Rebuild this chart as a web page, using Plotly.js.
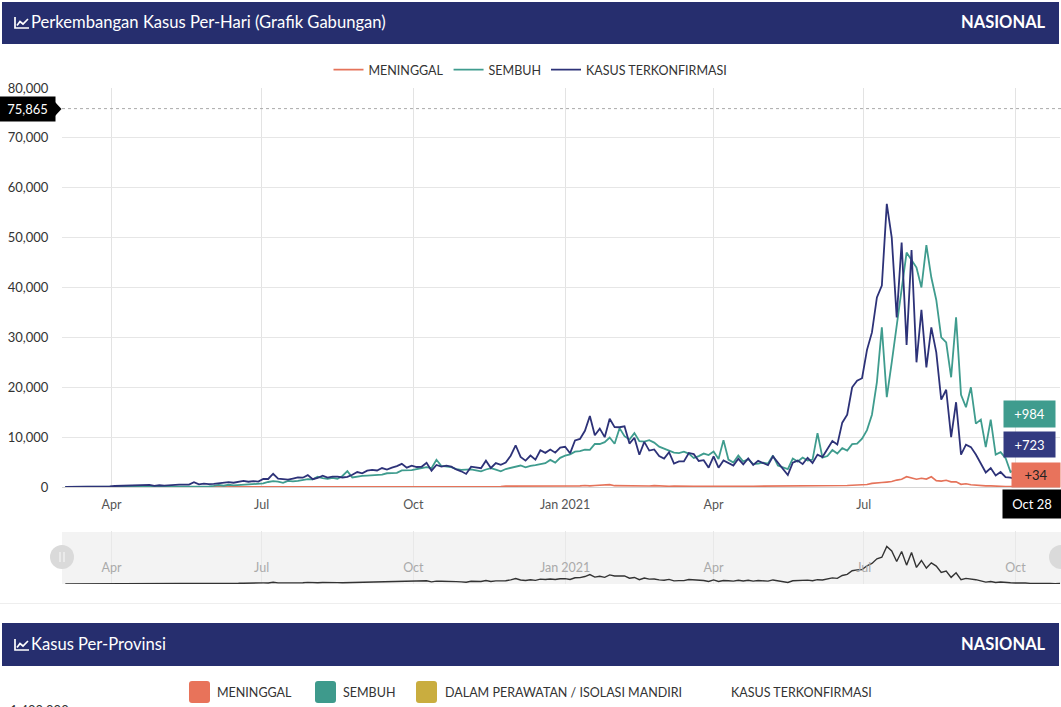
<!DOCTYPE html>
<html><head><meta charset="utf-8">
<script src="https://cdn.plot.ly/plotly-3.0.1.min.js"></script>
<style>html,body{margin:0;padding:0;background:#fff;}#chart{width:1061px;height:707px;}</style>
</head><body><div id="chart"></div>
<script>
const dates = [
'2020-03-04','2020-03-07','2020-03-10','2020-03-13','2020-03-16','2020-03-19','2020-03-22','2020-03-25','2020-03-28','2020-03-31',
'2020-04-03','2020-04-06','2020-04-09','2020-04-12','2020-04-15','2020-04-18','2020-04-21','2020-04-24','2020-04-27','2020-04-30',
'2020-05-03','2020-05-06','2020-05-09','2020-05-12','2020-05-15','2020-05-18','2020-05-21','2020-05-24','2020-05-27','2020-05-30',
'2020-06-02','2020-06-05','2020-06-08','2020-06-11','2020-06-14','2020-06-17','2020-06-20','2020-06-23','2020-06-26','2020-06-29',
'2020-07-02','2020-07-05','2020-07-08','2020-07-11','2020-07-14','2020-07-17','2020-07-20','2020-07-23','2020-07-26','2020-07-29',
'2020-08-01','2020-08-04','2020-08-07','2020-08-10','2020-08-13','2020-08-16','2020-08-19','2020-08-22','2020-08-25','2020-08-28','2020-08-31',
'2020-09-03','2020-09-06','2020-09-09','2020-09-12','2020-09-15','2020-09-18','2020-09-21','2020-09-24','2020-09-27','2020-09-30',
'2020-10-03','2020-10-06','2020-10-09','2020-10-12','2020-10-15','2020-10-18','2020-10-21','2020-10-24','2020-10-27','2020-10-30',
'2020-11-02','2020-11-05','2020-11-08','2020-11-11','2020-11-14','2020-11-17','2020-11-20','2020-11-23','2020-11-26','2020-11-29',
'2020-12-02','2020-12-05','2020-12-08','2020-12-11','2020-12-14','2020-12-17','2020-12-20','2020-12-23','2020-12-26','2020-12-29',
'2021-01-01','2021-01-04','2021-01-07','2021-01-10','2021-01-13','2021-01-16','2021-01-19','2021-01-22','2021-01-25','2021-01-28','2021-01-31',
'2021-02-03','2021-02-06','2021-02-09','2021-02-12','2021-02-15','2021-02-18','2021-02-21','2021-02-24','2021-02-27',
'2021-03-02','2021-03-05','2021-03-08','2021-03-11','2021-03-14','2021-03-17','2021-03-20','2021-03-23','2021-03-26','2021-03-29',
'2021-04-01','2021-04-04','2021-04-07','2021-04-10','2021-04-13','2021-04-16','2021-04-19','2021-04-22','2021-04-25','2021-04-28',
'2021-05-01','2021-05-04','2021-05-07','2021-05-10','2021-05-13','2021-05-16','2021-05-19','2021-05-22','2021-05-25','2021-05-28','2021-05-31',
'2021-06-03','2021-06-06','2021-06-09','2021-06-12','2021-06-15','2021-06-18','2021-06-21','2021-06-24','2021-06-27','2021-06-30',
'2021-07-03','2021-07-06','2021-07-09','2021-07-12','2021-07-15','2021-07-18','2021-07-21','2021-07-24','2021-07-27','2021-07-30',
'2021-08-02','2021-08-05','2021-08-08','2021-08-11','2021-08-14','2021-08-17','2021-08-20','2021-08-23','2021-08-26','2021-08-29',
'2021-09-01','2021-09-04','2021-09-07','2021-09-10','2021-09-13','2021-09-16','2021-09-19','2021-09-22','2021-09-25','2021-09-28',
'2021-10-01','2021-10-04','2021-10-07','2021-10-10','2021-10-13','2021-10-16','2021-10-19','2021-10-22','2021-10-25','2021-10-28'
];

const confirmed = [
0,2,8,35,17,82,64,105,109,114,
196,218,337,399,297,325,375,436,214,347,
292,367,533,484,490,496,973,526,686,557,
609,703,847,979,857,1031,1226,1051,1178,1082,
1624,1607,2657,1671,1591,1462,1693,1906,1868,2381,
1560,1815,2277,1893,2098,2081,1902,2037,2447,3003,2743,
3269,3444,3307,3806,3507,3891,4176,4634,3874,4284,
4007,4056,4850,3267,4411,4105,4267,4070,3520,3143,
2618,4065,3880,3770,5272,3807,4792,4442,4917,6267,
8369,6027,5292,6310,5489,7354,6848,7514,6883,7903,
8072,6753,9321,9640,11278,14224,10365,11703,9994,13695,12001,
11984,12156,8700,9869,6462,9039,7300,7533,6208,
5712,6971,4714,5144,5125,6825,6585,5227,5376,3863,
6142,3880,5325,4793,4311,5656,4558,5720,4402,5241,
4789,4369,6130,4891,3448,2385,4871,5296,4585,5862,4824,
6500,6000,7700,9200,8500,12900,14500,20000,21300,21800,
27500,31000,38000,40400,56757,50000,34000,49000,28500,47500,
25000,35500,24000,32000,27000,17500,19500,10000,17000,6500,
8500,8000,6500,4800,2900,3800,2300,3000,2000,1900,
1600,1000,1400,1000,1200,750,900,760,460,723
];

const recovered = [
0,0,0,0,0,2,2,5,6,5,
17,12,20,30,16,36,26,57,45,100,
132,84,148,127,141,108,78,102,100,145,
219,400,254,446,324,389,377,415,583,628,
708,1003,1165,1074,849,1219,1112,1235,1444,1564,
1522,2039,1774,1625,1836,1664,2218,3175,1902,2091,2227,
2286,2395,2484,2478,2754,2801,2843,3314,3337,3375,
3575,3798,3983,3761,5470,4223,4140,3987,3580,3418,
3502,3531,3345,3129,3509,3788,3490,3152,3606,3807,
4011,4308,3925,4247,4394,4581,4770,5430,4903,5854,
6278,6536,7075,7202,7468,7441,8652,8623,9000,9916,8661,
11800,10200,9500,10800,9200,9100,9400,8900,8100,
7700,7300,6900,6800,7100,6700,5800,6200,6700,6400,
7100,5600,9400,5500,4900,6300,5100,5600,4600,4700,
4900,4700,6300,4300,3900,3600,5700,5100,5900,5300,5500,
10800,5900,6200,7400,6700,7800,7300,8600,8700,9700,
11400,14500,21000,32000,18000,25000,32000,40000,47000,45500,
44000,40000,48500,42000,37500,30000,29000,22000,34000,18500,
16000,20000,12700,13500,8000,13500,6500,7000,5800,3000,
3500,2800,2600,2100,1900,1700,1500,1300,1200,984
];

const deaths = [
0,0,0,1,0,5,10,12,8,14,
11,11,40,26,47,15,26,24,8,8,
31,14,15,21,24,21,24,31,25,24,
16,49,38,41,37,39,34,37,49,51,
53,60,58,66,54,84,96,65,64,74,
73,64,65,61,79,83,79,65,72,93,100,
102,84,119,92,135,124,110,128,109,122,
102,128,108,90,100,90,120,128,112,106,
52,100,89,83,110,95,94,85,169,169,
156,136,123,113,138,155,154,201,180,180,
180,190,224,234,306,221,294,346,297,476,269,
250,244,197,211,202,208,195,274,180,
186,136,184,137,162,144,134,165,136,118,
160,133,144,128,140,99,131,134,165,169,
142,174,179,127,135,115,143,154,141,175,179,
168,158,194,197,238,295,294,355,409,467,
493,728,871,891,982,1093,1383,1566,2069,1759,
1568,1739,1588,2048,1270,1180,1348,1030,1030,537,
640,464,356,336,218,216,118,134,103,89,
63,43,43,51,47,33,35,21,18,34
];

const seriesNames = ['MENINGGAL','SEMBUH','KASUS TERKONFIRMASI'];
const tickDates = ['2020-04-01','2020-07-01','2020-10-01','2021-01-01','2021-04-01','2021-07-01','2021-10-01'];
const tickLabels = ['Apr','Jul','Oct','Jan 2021','Apr','Jul','Oct'];
const yTicks = [0,10000,20000,30000,40000,50000,60000,70000,80000];
const crosshairValue = 75865;
const lastLabels = ['+984','+723','+34'];
const lastDateLabel = 'Oct 28';
const provLegend = ['MENINGGAL','SEMBUH','DALAM PERAWATAN / ISOLASI MANDIRI','KASUS TERKONFIRMASI'];

// the last main-axis label sits under the "Oct 28" hover box in the reference
const mainTickLabels = tickLabels.map((t, i) => i === tickLabels.length - 1 ? '' : t);

// ---------- helpers (pixel -> paper) ----------
const W = 1061, H = 707;
const px = x => x / W;
const py = y => 1 - y / H;
const P = (x, y) => px(x).toFixed(5) + ',' + py(y).toFixed(5);
function rr(x0, y0, x1, y1, r) {
  return 'M' + P(x0 + r, y0) + ' L' + P(x1 - r, y0) + ' Q' + P(x1, y0) + ' ' + P(x1, y0 + r) +
    ' L' + P(x1, y1 - r) + ' Q' + P(x1, y1) + ' ' + P(x1 - r, y1) +
    ' L' + P(x0 + r, y1) + ' Q' + P(x0, y1) + ' ' + P(x0, y1 - r) +
    ' L' + P(x0, y0 + r) + ' Q' + P(x0, y0) + ' ' + P(x0 + r, y0) + ' Z';
}
function icon(x, y) { // small line-chart glyph, top-left at (x,y)
  return [
    {type:'path', xref:'paper', yref:'paper', path:'M' + P(x, y) + ' L' + P(x, y + 11) + ' L' + P(x + 14, y + 11), line:{color:'#fff', width:1.7}},
    {type:'path', xref:'paper', yref:'paper', path:'M' + P(x + 2, y + 8.5) + ' L' + P(x + 5, y + 4.5) + ' L' + P(x + 8, y + 7) + ' L' + P(x + 13, y + 2), line:{color:'#fff', width:1.7}}
  ];
}

const C_DEATH = '#E5735A', C_REC = '#3F9C8E', C_CONF = '#2D3278', NAVY = '#262E6E';
const FONT = 'Lato, "Open Sans", sans-serif';
const xRange = ['2020-03-02', '2021-10-28'];

const traces = [
  {type:'scatter', mode:'lines', name:seriesNames[0], x:dates, y:deaths, line:{color:C_DEATH, width:1.6}, xaxis:'x', yaxis:'y'},
  {type:'scatter', mode:'lines', name:seriesNames[1], x:dates, y:recovered, line:{color:C_REC, width:1.8}, xaxis:'x', yaxis:'y'},
  {type:'scatter', mode:'lines', name:seriesNames[2], x:dates, y:confirmed, line:{color:C_CONF, width:1.8}, xaxis:'x', yaxis:'y'},
  {type:'scatter', mode:'lines', name:'navigator', x:dates, y:confirmed, line:{color:'#333', width:1.4}, xaxis:'x2', yaxis:'y2', showlegend:false, hoverinfo:'skip'}
];

const shapes = [
  {type:'rect', xref:'paper', yref:'paper', x0:px(2), x1:px(1059), y0:py(44), y1:py(2), fillcolor:NAVY, line:{width:0}, layer:'below'},
  {type:'rect', xref:'paper', yref:'paper', x0:px(2), x1:px(1059), y0:py(666), y1:py(623), fillcolor:NAVY, line:{width:0}, layer:'below'},
  {type:'line', xref:'paper', yref:'paper', x0:0, x1:1, y0:py(603.5), y1:py(603.5), line:{color:'#eeeeee', width:1}},
  {type:'rect', xref:'paper', yref:'paper', x0:px(62), x1:1, y0:py(584), y1:py(532), fillcolor:'#f3f3f3', line:{width:0}, layer:'below'},
  {type:'line', xref:'paper', yref:'y', x0:px(62), x1:1, y0:crosshairValue, y1:crosshairValue, line:{color:'#aaaaaa', width:1, dash:'3px,3px'}},
  {type:'path', xref:'paper', yref:'paper', path:'M' + P(55, 102) + ' L' + P(61.5, 109) + ' L' + P(55, 116) + ' Z', fillcolor:'#000', line:{width:0}},
  {type:'circle', xref:'paper', yref:'paper', x0:px(50), x1:px(74), y0:py(569), y1:py(545), fillcolor:'#dadada', line:{width:0}},
  {type:'line', xref:'paper', yref:'paper', x0:px(60), x1:px(60), y0:py(562), y1:py(552), line:{color:'#f5f5f5', width:1.2}},
  {type:'line', xref:'paper', yref:'paper', x0:px(64), x1:px(64), y0:py(562), y1:py(552), line:{color:'#f5f5f5', width:1.2}},
  {type:'circle', xref:'paper', yref:'paper', x0:px(1049), x1:px(1073), y0:py(569), y1:py(545), fillcolor:'#dadada', line:{width:0}},
  {type:'path', xref:'paper', yref:'paper', path:rr(189, 681, 210, 703, 3), fillcolor:'#E8735A', line:{width:0}},
  {type:'path', xref:'paper', yref:'paper', path:rr(315, 681, 336, 703, 3), fillcolor:'#3E9A8C', line:{width:0}},
  {type:'path', xref:'paper', yref:'paper', path:rr(416, 681, 437, 703, 3), fillcolor:'#C9AD3F', line:{width:0}}
].concat(icon(15, 17), icon(15, 639));

function boxAnn(text, cx, cy, w, h, bg, fc) {
  return {xref:'paper', yref:'paper', x:px(cx), y:py(cy), xanchor:'center', yanchor:'middle', text:text, showarrow:false,
    bgcolor:bg, width:w - 8, height:h - 8, borderpad:4, font:{family:FONT, size:13, color:fc}};
}
function txt(text, x, y, size, color, anchor, bold) {
  return {xref:'paper', yref:'paper', x:px(x), y:py(y), xanchor:anchor || 'left', yanchor:'middle', text: bold ? '<b>' + text + '</b>' : text,
    showarrow:false, font:{family:FONT, size:size, color:color}};
}

const annotations = [
  txt('Perkembangan Kasus Per-Hari (Grafik Gabungan)', 29, 22, 16.6, '#fff'),
  txt('NASIONAL', 1048, 22, 16.5, '#fff', 'right', true),
  txt('Kasus Per-Provinsi', 29, 644, 16.6, '#fff'),
  txt('NASIONAL', 1048, 644, 16.5, '#fff', 'right', true),
  boxAnn(crosshairValue.toLocaleString('en-US'), 27.5, 109, 55, 24, '#000', '#fff'),
  boxAnn(lastLabels[0], 1029.5, 414, 51, 26, '#3F9C8E', '#fff'),
  boxAnn(lastLabels[1], 1029.5, 444.5, 51, 25, '#333A80', '#fff'),
  boxAnn(lastLabels[2], 1035.5, 475, 48, 24, '#E8735C', '#222'),
  boxAnn(lastDateLabel, 1032, 504, 58, 28, '#000', '#fff'),
  txt(provLegend[0], 215, 692, 12.5, '#333'),
  txt(provLegend[1], 341, 692, 12.5, '#333'),
  txt(provLegend[2], 443, 692, 12.5, '#333'),
  txt(provLegend[3], 729, 692, 12.5, '#333'),
  txt('1,400,000', 8, 710, 13, '#333')
];

const layout = {
  width:W, height:H, margin:{l:0, r:0, t:0, b:0, pad:0},
  paper_bgcolor:'#fff', plot_bgcolor:'rgba(0,0,0,0)',
  font:{family:FONT, color:'#333'},
  showlegend:true,
  legend:{orientation:'h', x:0.5, xanchor:'center', y:py(70), yanchor:'middle', font:{family:FONT, size:12.5, color:'#333'}, traceorder:'normal', bgcolor:'rgba(0,0,0,0)'},
  hovermode:false,
  xaxis:{domain:[px(62), px(1060)], anchor:'y', type:'date', range:xRange, tickmode:'array', tickvals:tickDates, ticktext:mainTickLabels,
    showgrid:true, gridcolor:'#e3e3e3', gridwidth:1, zeroline:false, showline:false, ticks:'outside', ticklen:6, tickcolor:'rgba(0,0,0,0)',
    tickfont:{family:FONT, size:12.5, color:'#555'}, fixedrange:true},
  yaxis:{domain:[py(487), py(88)], anchor:'x', range:[0, 80000], tickmode:'array', tickvals:yTicks, tickformat:',d',
    showgrid:true, gridcolor:'#e6e6e6', zeroline:true, zerolinecolor:'#d6d6d6', ticks:'outside', ticklen:10, tickcolor:'rgba(0,0,0,0)',
    tickfont:{family:FONT, size:13, color:'#333'}, fixedrange:true},
  xaxis2:{domain:[px(62), px(1060)], anchor:'y2', type:'date', range:xRange, tickmode:'array', tickvals:tickDates, ticktext:tickLabels,
    ticklabelposition:'inside', ticks:'inside', ticklen:9, tickcolor:'rgba(0,0,0,0)', showgrid:true, gridcolor:'#e8e8e8',
    zeroline:false, showline:false, tickfont:{family:FONT, size:12.5, color:'#aaa'}, fixedrange:true},
  yaxis2:{domain:[py(584), py(531)], anchor:'x2', range:[0, 80000], visible:false, fixedrange:true},
  shapes:shapes,
  annotations:annotations
};

Plotly.newPlot('chart', traces, layout, {displayModeBar:false, staticPlot:true});
</script>
</body></html>
